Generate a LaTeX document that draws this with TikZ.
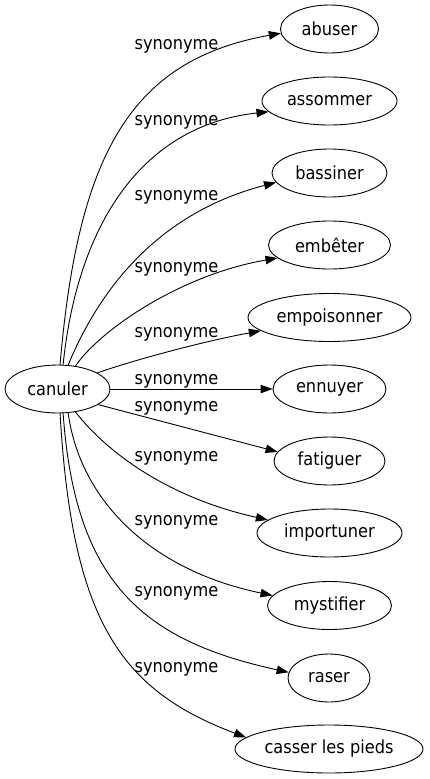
\documentclass[tikz,border=0pt]{standalone}
\usepackage{fontspec}
\newfontfamily\lbl{DejaVu Sans Condensed}
\usetikzlibrary{shapes.geometric,arrows.meta}
\begin{document}
\begin{tikzpicture}[x=1pt,y=-1pt,
  ell/.style={draw, ellipse, inner sep=0pt, minimum height=48pt, line width=0.9pt, font=\lbl\fontsize{18}{21}\selectfont},
  lab/.style={anchor=base, inner sep=0pt, font=\lbl\fontsize{18}{21}\selectfont},
  syn/.style={draw, line width=0.9pt, -{Triangle[length=12pt,width=8.5pt]}}]
\useasboundingbox (0,0) rectangle (429,779);
\node[ell, minimum width=105pt] (canuler) at (57.5,389) {canuler};
\node[ell, minimum width=98pt] (abuser) at (329.5,29) {abuser};
\node[ell, minimum width=135pt] (assommer) at (329.5,101) {assommer};
\node[ell, minimum width=115pt] (bassiner) at (329.5,173) {bassiner};
\node[ell, minimum width=122pt] (embeter) at (329.5,245) {embêter};
\node[ell, minimum width=163pt] (empoisonner) at (329.5,317.5) {empoisonner};
\node[ell, minimum width=113pt] (ennuyer) at (329.5,389) {ennuyer};
\node[ell, minimum width=111pt] (fatiguer) at (329.5,461) {fatiguer};
\node[ell, minimum width=145pt] (importuner) at (329.5,533) {importuner};
\node[ell, minimum width=124pt] (mystifier) at (329.5,605.5) {mystifier};
\node[ell, minimum width=82pt] (raser) at (329,678) {raser};
\node[ell, minimum width=188pt] (casser) at (329,749) {casser les pieds};
\path[syn] (canuler.84) .. controls (78,155) and (130,60) .. (abuser.185);
\path[syn] (canuler.77) .. controls (78,220) and (145,125) .. (assommer.190);
\path[syn] (canuler.66) .. controls (95,300) and (150,215) .. (bassiner.190);
\path[syn] (canuler.52) .. controls (100,330) and (180,275) .. (embeter.194);
\path[syn] (canuler.22) .. controls (140,358) and (210,340) .. (empoisonner.191);
\path[syn] (canuler.east) -- (ennuyer.west);
\path[syn] (canuler.-21) -- (fatiguer.170);
\path[syn] (canuler.-52) .. controls (105,450) and (165,497) .. (importuner.168);
\path[syn] (canuler.-66) .. controls (80,500) and (150,570) .. (mystifier.170);
\path[syn] (canuler.-77) .. controls (75,580) and (140,640) .. (raser.172);
\path[syn] (canuler.-84) .. controls (72,620) and (120,690) .. (casser.172);
\node[lab] (l1) at (176.5,49) {synonyme};
\node[lab] (l2) at (176.5,125) {synonyme};
\node[lab] (l3) at (176.5,200) {synonyme};
\node[lab] (l4) at (176.5,272) {synonyme};
\node[lab] (l5) at (176.5,337) {synonyme};
\node[lab] (l6) at (176.5,384) {synonyme};
\node[lab] (l7) at (176.5,411) {synonyme};
\node[lab] (l8) at (176.5,461) {synonyme};
\node[lab] (l9) at (176.5,525) {synonyme};
\node[lab] (l10) at (176.5,596) {synonyme};
\node[lab] (l11) at (176.5,672) {synonyme};
\end{tikzpicture}
\end{document}
